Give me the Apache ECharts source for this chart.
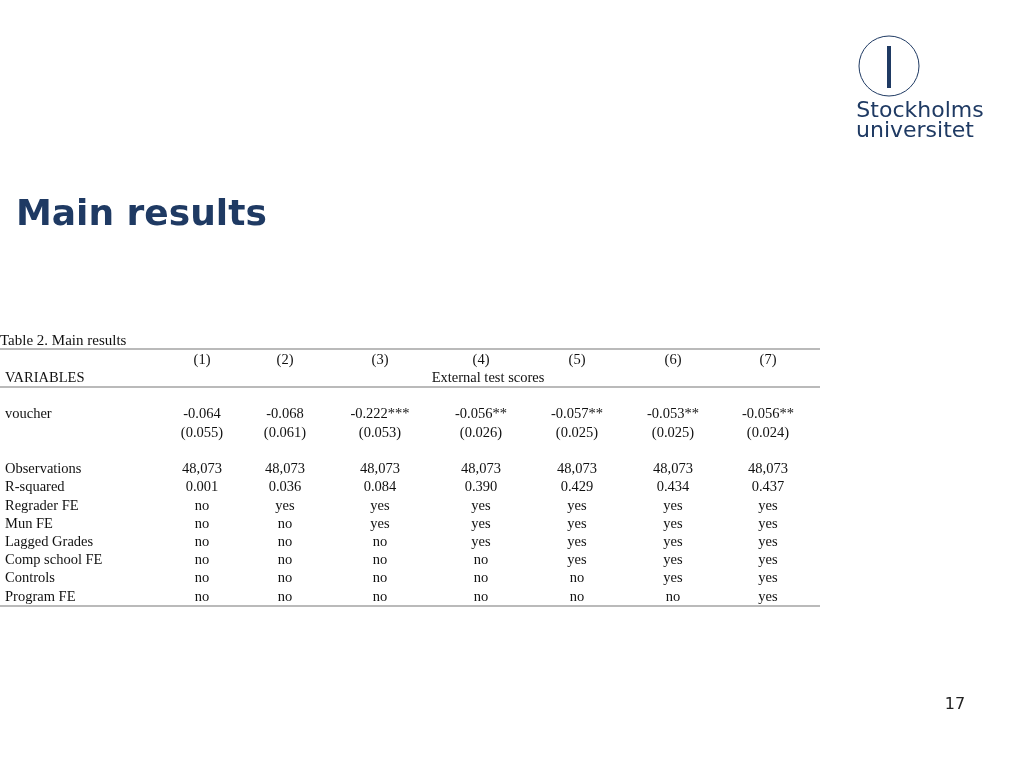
<!DOCTYPE html>
<html>
<head>
<meta charset="utf-8">
<script src="https://cdn.jsdelivr.net/npm/echarts@6/dist/echarts.min.js"></script>
<style>
  html, body { margin: 0; padding: 0; background: #fff; }
  #chart { width: 1024px; height: 768px; }
</style>
</head>
<body>
<div id="chart"></div>
<script>
// table data
var colHeads = ['(1)', '(2)', '(3)', '(4)', '(5)', '(6)', '(7)'];
var coefs = ['-0.064', '-0.068', '-0.222***', '-0.056**', '-0.057**', '-0.053**', '-0.056**'];
var stdErrs = ['(0.055)', '(0.061)', '(0.053)', '(0.026)', '(0.025)', '(0.025)', '(0.024)'];
var rowLabels = ['Observations', 'R-squared', 'Regrader FE', 'Mun FE', 'Lagged Grades',
  'Comp school FE', 'Controls', 'Program FE'];
var rowValues = [
  ['48,073', '48,073', '48,073', '48,073', '48,073', '48,073', '48,073'],
  ['0.001', '0.036', '0.084', '0.390', '0.429', '0.434', '0.437'],
  ['no', 'yes', 'yes', 'yes', 'yes', 'yes', 'yes'],
  ['no', 'no', 'yes', 'yes', 'yes', 'yes', 'yes'],
  ['no', 'no', 'no', 'yes', 'yes', 'yes', 'yes'],
  ['no', 'no', 'no', 'no', 'yes', 'yes', 'yes'],
  ['no', 'no', 'no', 'no', 'no', 'yes', 'yes'],
  ['no', 'no', 'no', 'no', 'no', 'no', 'yes']
];

var colX = [202, 285, 380, 481, 577, 673, 768];
var rowY = [469, 487, 506, 524, 542, 560, 578, 597];
var serif = '"Liberation Serif", "DejaVu Serif", serif';
var navy = '#1f3a63';

function txt(x, y, s, align, extra) {
  var style = { text: s, x: x, y: y, fill: '#111', font: '14.5px ' + serif,
    align: align || 'center', verticalAlign: 'middle' };
  for (var k in extra || {}) style[k] = extra[k];
  return { type: 'text', silent: true, style: style };
}
function hline(y) {
  return { type: 'line', shape: { x1: 0, y1: y, x2: 820, y2: y },
    style: { stroke: '#777', lineWidth: 1.2 } };
}

var els = [];
els.push(txt(16, 216, 'Main results', 'left',
  { font: 'bold 36px "DejaVu Sans", Verdana, sans-serif', fill: navy }));
els.push(txt(955, 705, '17', 'center', { font: '16px "DejaVu Sans", sans-serif', fill: '#222' }));

// logo
els.push({ type: 'circle', shape: { cx: 889, cy: 66, r: 30 },
  style: { fill: 'none', stroke: navy, lineWidth: 1 } });
els.push({ type: 'rect', shape: { x: 887, y: 46, width: 4, height: 42 }, style: { fill: navy } });
els.push(txt(920, 111, 'Stockholms', 'center', { font: '22px "DejaVu Sans", sans-serif', fill: navy }));
els.push(txt(915, 131, 'universitet', 'center', { font: '22px "DejaVu Sans", sans-serif', fill: navy }));

// table
els.push(txt(0, 341, 'Table 2. Main results', 'left', { font: '15px ' + serif }));
els.push(hline(349));
els.push(hline(387));
els.push(hline(606));
els.push(txt(5, 378, 'VARIABLES', 'left'));
els.push(txt(488, 378, 'External test scores', 'center'));
els.push(txt(5, 414, 'voucher', 'left'));
colHeads.forEach(function (h, i) {
  els.push(txt(colX[i], 360, h));
  els.push(txt(colX[i], 414, coefs[i]));
  els.push(txt(colX[i], 433, stdErrs[i]));
});
rowLabels.forEach(function (lab, r) {
  els.push(txt(5, rowY[r], lab, 'left'));
  rowValues[r].forEach(function (v, i) {
    els.push(txt(colX[i], rowY[r], v));
  });
});

var chart = echarts.init(document.getElementById('chart'));
chart.setOption({ animation: false, backgroundColor: '#fff', graphic: { elements: els } });
</script>
</body>
</html>
